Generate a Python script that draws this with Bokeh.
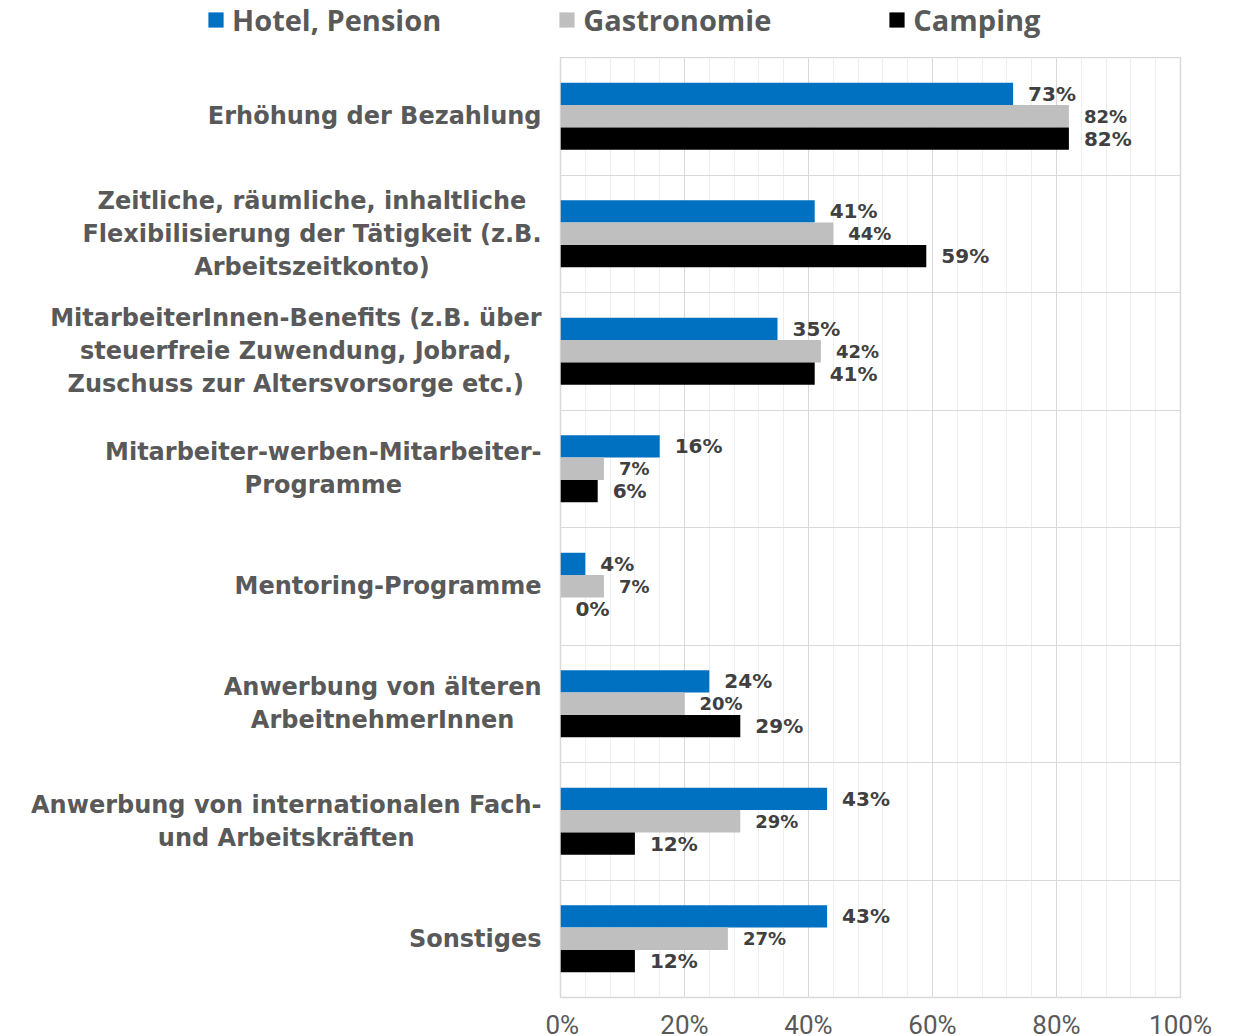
from bokeh.plotting import figure
from bokeh.layouts import column, row
from bokeh.models import (FactorRange, ColumnDataSource, Legend, LegendItem,
                          SingleIntervalTicker, FixedTicker, CustomJSTickFormatter)
from bokeh.transform import dodge
from bokeh.core.properties import value
from bokeh.embed import file_html
from bokeh.resources import INLINE

categories = [
    "Erhöhung der Bezahlung",
    "Zeitliche, räumliche, inhaltliche\nFlexibilisierung der Tätigkeit (z.B.\nArbeitszeitkonto)",
    "MitarbeiterInnen-Benefits (z.B. über\nsteuerfreie Zuwendung, Jobrad,\nZuschuss zur Altersvorsorge etc.)",
    "Mitarbeiter-werben-Mitarbeiter-\nProgramme",
    "Mentoring-Programme",
    "Anwerbung von älteren\nArbeitnehmerInnen",
    "Anwerbung von internationalen Fach-\nund Arbeitskräften",
    "Sonstiges",
]
series_names = ["Hotel, Pension", "Gastronomie", "Camping"]
hotel = [73, 41, 35, 16, 4, 24, 43, 43]
gastro = [82, 44, 42, 7, 7, 20, 29, 27]
camping = [82, 59, 41, 6, 0, 29, 12, 12]

colors = ["#0070C0", "#BFBFBF", "#000000"]
offsets = [0.19, 0.0, -0.19]
label_sizes = ["20px", "18px", "20px"]
series_keys = ["hotel", "gastro", "camping"]

source = ColumnDataSource(dict(
    cat=categories,
    hotel=hotel, gastro=gastro, camping=camping,
    hotel_lbl=[f"{v}%" for v in hotel],
    gastro_lbl=[f"{v}%" for v in gastro],
    camping_lbl=[f"{v}%" for v in camping],
))

y_range = FactorRange(factors=list(reversed(categories)))


def bare(fig):
    fig.xaxis.visible = False
    fig.yaxis.visible = False
    fig.xgrid.visible = False
    fig.ygrid.visible = False
    fig.outline_line_color = None
    return fig


# ---- legend strip ----------------------------------------------------------
leg_fig = bare(figure(width=1236, height=57, x_range=(0, 1236), y_range=(0, 57),
                      output_backend="svg", toolbar_location=None, min_border=0,
                      background_fill_color="white", border_fill_color="white"))
# zero-height bars: they only supply the legend swatches
leg_renderers = [leg_fig.hbar(y=0, right=k, left=0, height=0, source=source,
                              fill_color=c, line_color=None)
                 for k, c in zip(series_keys, colors)]
legend = Legend(
    items=[LegendItem(label=n, renderers=[r]) for n, r in zip(series_names, leg_renderers)],
    orientation="horizontal", location=(206, 18),
    padding=0, margin=0, spacing=116, label_standoff=7,
    glyph_width=19, glyph_height=19,
    label_text_font="Open Sans", label_text_font_style="bold", label_text_font_size="29px",
    label_text_color="#595959",
    background_fill_alpha=0, border_line_color=None,
)
leg_fig.add_layout(legend)

# ---- category labels -------------------------------------------------------
lab_fig = bare(figure(width=545, frame_height=940, x_range=(0, 545), y_range=y_range,
                      output_backend="svg", toolbar_location=None, min_border=0,
                      background_fill_color="white", border_fill_color="white"))
lab_fig.text(x=541, y=categories, text=categories, anchor="center_right",
             text_align="center", text_baseline="middle",
             text_font=value("DejaVu Sans"), text_font_style="bold", text_font_size="24px",
             text_color="#595959", text_line_height=1.17)

# ---- main chart ------------------------------------------------------------
p = figure(
    frame_width=620, frame_height=940,
    y_range=y_range, x_range=(0, 100),
    output_backend="svg", toolbar_location=None,
    min_border_left=15, min_border_right=56, min_border_top=0, min_border_bottom=30,
    background_fill_color="white", border_fill_color="white",
)

for key, col, off, fs in zip(series_keys, colors, offsets, label_sizes):
    p.hbar(y=dodge("cat", off, range=p.y_range), right=key, left=0, height=0.19,
           source=source, fill_color=col, line_color=None)
    p.text(x=key, y=dodge("cat", off, range=p.y_range), text=key + "_lbl", source=source,
           x_offset=15, text_align="left", text_baseline="middle",
           text_font=value("DejaVu Sans"), text_font_style="bold",
           text_font_size=fs, text_color="#404040")

p.xaxis.ticker = SingleIntervalTicker(interval=20, num_minor_ticks=5)
p.xaxis.formatter = CustomJSTickFormatter(code="return tick + '%';")
p.xaxis.axis_line_color = None
p.xaxis.major_tick_line_color = None
p.xaxis.minor_tick_line_color = None
p.xaxis.major_label_standoff = 6
p.xaxis.major_label_text_font = "Roboto"
p.xaxis.major_label_text_font_size = "26px"
p.xaxis.major_label_text_color = "#595959"
p.yaxis.visible = False

p.xgrid.grid_line_color = "#D9D9D9"
p.xgrid.minor_grid_line_color = "#EEEEEE"
p.ygrid.ticker = FixedTicker(ticks=list(range(len(categories) + 1)))
p.ygrid.grid_line_color = "#D9D9D9"
p.outline_line_color = "#D9D9D9"
p.outline_line_width = 1.5

layout = column(leg_fig, row(lab_fig, p, spacing=0), spacing=0)
open("out.html", "w").write(file_html(layout, INLINE))
